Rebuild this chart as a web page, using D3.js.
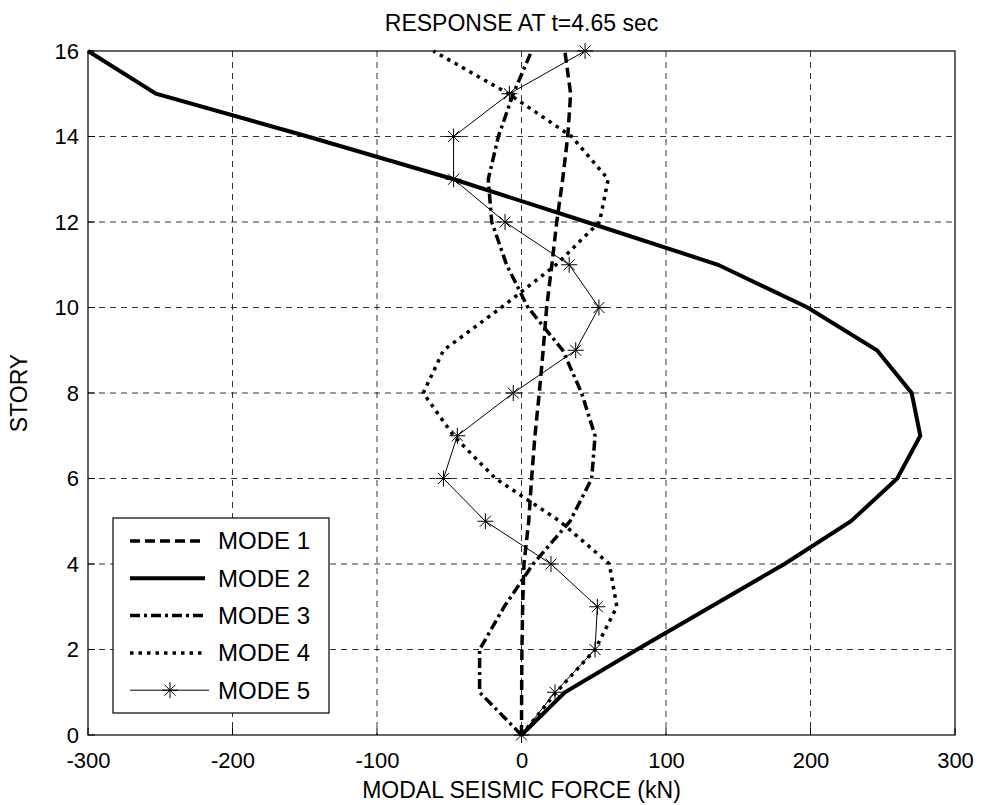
<!DOCTYPE html>
<html lang="en">
<head>
    <meta charset="UTF-8">
    <script src="https://d3js.org/d3.v7.min.js"></script>
    <style>
        body {
            margin: 0;
            padding: 0;
            background: #fff;
        }
        svg text {
            font-family: 'Liberation Sans', Arial, sans-serif;
            fill: #000;
        }
    </style>
</head>
<body>
    <div id="chart"></div>
    <script>
        // Data
        const stories = [0, 1, 2, 3, 4, 5, 6, 7, 8, 9, 10, 11, 12, 13, 14, 15, 16];
        const mode1 = [0, 0.1, 0.3, 0.8, 1.7, 5, 7, 9.3, 12.3, 15, 17.4, 21, 24.4, 28.5, 32, 34, 30];
        const mode2 = [0, 30, 80, 131, 182, 228, 260, 276, 270, 246, 198, 136, 45, -47, -148, -253, -300];
        const mode3 = [0, -29, -29, -12, 8, 33.6, 48.6, 50.9, 41.6, 28.5, 4.5, -10.3, -20.6, -23, -16, -5.7, 7];
        const mode4 = [0, 24, 51, 66, 60.8, 26.6, -18, -47, -68, -54, -14, 24, 54, 60, 34.7, -9, -61];
        const mode5 = [0, 23.2, 50.9, 52.5, 20.4, -25, -54, -44.4, -5.7, 37.5, 53.6, 33, -11.4, -47, -47, -8.4, 44];
        const modeNames = ["MODE 1", "MODE 2", "MODE 3", "MODE 4", "MODE 5"];
        const xTicks = [-300, -200, -100, 0, 100, 200, 300];
        const yTicks = [0, 2, 4, 6, 8, 10, 12, 14, 16];

        // line styles per mode
        const styles = [
            {width: 3.5, dash: "10,5", marker: false},
            {width: 4, dash: null, marker: false},
            {width: 3.5, dash: "10,4,3,4", marker: false},
            {width: 3.5, dash: "3.5,5", marker: false},
            {width: 1, dash: null, marker: true}
        ];

        const W = 983, H = 805;
        const margin = {top: 51, right: 28, bottom: 70, left: 88};
        const iw = W - margin.left - margin.right;
        const ih = H - margin.top - margin.bottom;

        const svg = d3.select("#chart").append("svg")
            .attr("width", W)
            .attr("height", H);

        const g = svg.append("g")
            .attr("transform", `translate(${margin.left},${margin.top})`);

        const x = d3.scaleLinear().domain([-300, 300]).range([0, iw]);
        const y = d3.scaleLinear().domain([0, 16]).range([ih, 0]);

        // grid
        g.append("g").selectAll("line")
            .data(xTicks.slice(1, -1))
            .join("line")
            .attr("x1", d => x(d)).attr("x2", d => x(d))
            .attr("y1", 0).attr("y2", ih)
            .attr("stroke", "#000").attr("stroke-width", 0.8)
            .attr("stroke-dasharray", "6,5");
        g.append("g").selectAll("line")
            .data(yTicks.slice(1, -1))
            .join("line")
            .attr("y1", d => y(d)).attr("y2", d => y(d))
            .attr("x1", 0).attr("x2", iw)
            .attr("stroke", "#000").attr("stroke-width", 0.8)
            .attr("stroke-dasharray", "6,5");

        // axes (plain hyphen for negatives, like the original)
        const fmt = d => String(d);
        const xAxis = g.append("g")
            .attr("transform", `translate(0,${ih})`)
            .call(d3.axisBottom(x).tickValues(xTicks).tickFormat(fmt).tickSize(0).tickPadding(17));
        const yAxis = g.append("g")
            .call(d3.axisLeft(y).tickValues(yTicks).tickFormat(fmt).tickSize(0).tickPadding(9));
        [xAxis, yAxis].forEach(a => {
            a.select(".domain").remove();
            a.selectAll("text").attr("font-size", 22).attr("font-family", "'Liberation Sans', Arial, sans-serif");
        });

        // inner tick marks
        g.append("g").selectAll("line")
            .data(xTicks)
            .join("line")
            .attr("x1", d => x(d)).attr("x2", d => x(d))
            .attr("y1", ih).attr("y2", ih - 7)
            .attr("stroke", "#000");
        g.append("g").selectAll("line")
            .data(yTicks)
            .join("line")
            .attr("y1", d => y(d)).attr("y2", d => y(d))
            .attr("x1", 0).attr("x2", 7)
            .attr("stroke", "#000");

        // box
        g.append("rect")
            .attr("width", iw).attr("height", ih)
            .attr("fill", "none").attr("stroke", "#000").attr("stroke-width", 1.2);

        const series = [mode1, mode2, mode3, mode4, mode5];
        const line = d3.line()
            .x(d => x(d[0]))
            .y(d => y(d[1]));

        const starPath = "M-8,0H8M0,-8V8M-5.5,-5.5L5.5,5.5M-5.5,5.5L5.5,-5.5";

        series.forEach((vals, i) => {
            const pts = vals.map((v, j) => [v, stories[j]]);
            const s = styles[i];
            g.append("path")
                .datum(pts)
                .attr("d", line)
                .attr("fill", "none")
                .attr("stroke", "#000")
                .attr("stroke-width", s.width)
                .attr("stroke-dasharray", s.dash)
                .attr("stroke-linejoin", "miter");
            if (s.marker) {
                g.append("g").selectAll("path")
                    .data(pts)
                    .join("path")
                    .attr("transform", d => `translate(${x(d[0])},${y(d[1])})`)
                    .attr("d", starPath)
                    .attr("stroke", "#000")
                    .attr("stroke-width", 1);
            }
        });

        // legend
        const lg = svg.append("g").attr("transform", "translate(113,518)");
        lg.append("rect")
            .attr("width", 216).attr("height", 195)
            .attr("fill", "#fff").attr("stroke", "#000").attr("stroke-width", 1.2);
        modeNames.forEach((name, i) => {
            const ly = 23 + i * 37.3;
            const s = styles[i];
            lg.append("line")
                .attr("x1", 17).attr("x2", s.marker ? 96 : 92)
                .attr("y1", ly).attr("y2", ly)
                .attr("stroke", "#000")
                .attr("stroke-width", s.width)
                .attr("stroke-dasharray", s.dash);
            if (s.marker) {
                lg.append("path")
                    .attr("transform", `translate(57,${ly})`)
                    .attr("d", starPath)
                    .attr("stroke", "#000");
            }
            lg.append("text")
                .attr("x", 105).attr("y", ly)
                .attr("dy", "0.35em")
                .attr("font-size", 24)
                .text(name);
        });

        // titles
        svg.append("text")
            .attr("x", margin.left + iw / 2).attr("y", 31)
            .attr("text-anchor", "middle")
            .attr("font-size", 23)
            .text("RESPONSE AT t=4.65 sec");
        svg.append("text")
            .attr("x", margin.left + iw / 2).attr("y", 798)
            .attr("text-anchor", "middle")
            .attr("font-size", 23)
            .text("MODAL SEISMIC FORCE (kN)");
        svg.append("text")
            .attr("transform", `translate(27,${margin.top + ih / 2}) rotate(-90)`)
            .attr("text-anchor", "middle")
            .attr("font-size", 23)
            .text("STORY");
    </script>
</body>
</html>
